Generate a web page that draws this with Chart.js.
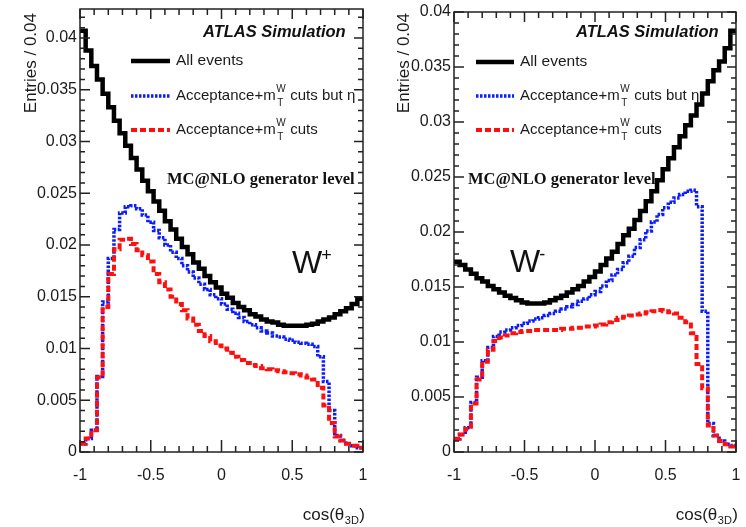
<!DOCTYPE html>
<html>
<head>
<meta charset="utf-8">
<script src="https://cdn.jsdelivr.net/npm/chart.js@4"></script>
<style>
    html, body { margin: 0; padding: 0; background: #fff; }
    #wrap { position: relative; width: 746px; height: 527px; }
    canvas { position: absolute; top: 0; }
    #plus-chart { left: 0; }
    #minus-chart { left: 373px; }
</style>
</head>
<body>
<div id="wrap">
    <canvas id="plus-chart" width="373" height="527"></canvas>
    <canvas id="minus-chart" width="373" height="527"></canvas>
</div>
<script>
// 50 bins of width 0.04 in cos(theta_3D)
const x_ticks = [-1, -0.5, 0, 0.5, 1];
const x_tick_labels = ['-1', '-0.5', '0', '0.5', '1'];
const y_ticks = [0, 0.005, 0.01, 0.015, 0.02, 0.025, 0.03, 0.035, 0.04];
const y_tick_labels = ['0', '0.005', '0.01', '0.015', '0.02', '0.025', '0.03', '0.035', '0.04'];
const legend_labels = ['All events', 'Acceptance+m', 'Acceptance+m'];

// W+
const wplus_all = [
    0.0407, 0.0388, 0.0373, 0.0360, 0.0346, 0.0333, 0.0320, 0.0308, 0.0296, 0.0284,
    0.0273, 0.0262, 0.0252, 0.0242, 0.0233, 0.0223, 0.0215, 0.0206, 0.0198, 0.0191,
    0.0183, 0.0177, 0.0170, 0.0164, 0.0159, 0.0153, 0.0149, 0.0144, 0.0140, 0.0137,
    0.0133, 0.0131, 0.0128, 0.0126, 0.0125, 0.0123, 0.0122, 0.0122, 0.0122, 0.0122,
    0.0123, 0.0124, 0.0126, 0.0128, 0.0130, 0.0133, 0.0136, 0.0139, 0.0143, 0.0148,
];
const wplus_no_eta = [
    0.0008, 0.0013, 0.0021, 0.0073, 0.0145, 0.0187, 0.0215, 0.0231, 0.0237, 0.0238,
    0.0235, 0.0229, 0.0222, 0.0214, 0.0207, 0.0200, 0.0193, 0.0187, 0.0180, 0.0174,
    0.0168, 0.0162, 0.0157, 0.0152, 0.0148, 0.0143, 0.0138, 0.0134, 0.0130, 0.0126,
    0.0123, 0.0120, 0.0117, 0.0115, 0.0112, 0.0111, 0.0109, 0.0108, 0.0106, 0.0105,
    0.0104, 0.0102, 0.0092, 0.0068, 0.0040, 0.0016, 0.0011, 0.0008, 0.0006, 0.0004,
];
const wplus_cuts = [
    0.0008, 0.0013, 0.0021, 0.0072, 0.0140, 0.0172, 0.0196, 0.0205, 0.0206, 0.0201,
    0.0195, 0.0190, 0.0184, 0.0172, 0.0164, 0.0157, 0.0150, 0.0143, 0.0137, 0.0129,
    0.0123, 0.0117, 0.0112, 0.0107, 0.0103, 0.0100, 0.0096, 0.0092, 0.0089, 0.0086,
    0.0084, 0.0083, 0.0081, 0.0080, 0.0079, 0.0078, 0.0077, 0.0076, 0.0075, 0.0074,
    0.0072, 0.0070, 0.0062, 0.0045, 0.0028, 0.0015, 0.0011, 0.0008, 0.0006, 0.0004,
];

// W-
const wminus_all = [
    0.0173, 0.0170, 0.0166, 0.0162, 0.0158, 0.0155, 0.0151, 0.0148, 0.0145, 0.0142,
    0.0140, 0.0138, 0.0136, 0.0135, 0.0135, 0.0135, 0.0136, 0.0138, 0.0140, 0.0142,
    0.0145, 0.0148, 0.0151, 0.0155, 0.0159, 0.0164, 0.0170, 0.0176, 0.0182, 0.0189,
    0.0197, 0.0203, 0.0211, 0.0219, 0.0228, 0.0237, 0.0247, 0.0257, 0.0267, 0.0277,
    0.0287, 0.0297, 0.0306, 0.0316, 0.0326, 0.0337, 0.0347, 0.0355, 0.0367, 0.0383,
];
const wminus_no_eta = [
    0.0012, 0.0016, 0.0022, 0.0045, 0.0068, 0.0083, 0.0095, 0.0105, 0.0109, 0.0111,
    0.0113, 0.0115, 0.0117, 0.0119, 0.0121, 0.0122, 0.0124, 0.0126, 0.0128, 0.0130,
    0.0132, 0.0134, 0.0137, 0.0139, 0.0143, 0.0146, 0.0151, 0.0156, 0.0161, 0.0166,
    0.0172, 0.0178, 0.0186, 0.0193, 0.0201, 0.0209, 0.0216, 0.0222, 0.0227, 0.0231,
    0.0234, 0.0237, 0.0238, 0.0223, 0.0128, 0.0026, 0.0015, 0.0010, 0.0007, 0.0006,
];
const wminus_cuts = [
    0.0012, 0.0016, 0.0021, 0.0044, 0.0066, 0.0082, 0.0093, 0.0101, 0.0104, 0.0106,
    0.0108, 0.0109, 0.0110, 0.0110, 0.0111, 0.0111, 0.0111, 0.0111, 0.0111, 0.0112,
    0.0112, 0.0113, 0.0113, 0.0114, 0.0114, 0.0115, 0.0116, 0.0118, 0.0120, 0.0122,
    0.0123, 0.0124, 0.0125, 0.0126, 0.0127, 0.0128, 0.0129, 0.0128, 0.0127, 0.0126,
    0.0122, 0.0118, 0.0108, 0.0080, 0.0058, 0.0024, 0.0015, 0.0010, 0.0007, 0.0005,
];

const SANS = '"Liberation Sans", Arial, sans-serif';
const SERIF = '"Liberation Serif", "Times New Roman", serif';
const INK = '#1a1a1a';

const styles = [
    { color: '#000000', width: 4.5, dash: [] },
    { color: '#0b1cff', width: 3.5, dash: [2.5, 1.5] },
    { color: '#ff1010', width: 4, dash: [6, 3] },
];

// histogram -> points at the bin edges, drawn as a stepped line
function to_steps(values) {
    const width = 2 / values.length;
    const pts = values.map((v, i) => ({ x: -1 + i * width, y: v }));
    pts.push({ x: 1, y: values[values.length - 1] });
    return pts;
}

function draw_mt(ctx, x, y, tail) {
    ctx.font = '15px ' + SANS;
    ctx.fillText(legend_labels[1], x, y);
    let w = ctx.measureText(legend_labels[1]).width;
    ctx.font = '10px ' + SANS;
    ctx.fillText('W', x + w + 0.5, y - 7);
    ctx.fillText('T', x + w + 1.5, y + 7);
    w += ctx.measureText('W').width + 1;
    ctx.font = '15px ' + SANS;
    ctx.fillText(tail, x + w, y);
}

const atlas_frame = {
    id: 'atlas_frame',
    afterDraw(chart, args, opts) {
        const ctx = chart.ctx;
        const { left, right, top, bottom } = chart.chartArea;
        const xs = chart.scales.x, ys = chart.scales.y;
        ctx.save();
        ctx.strokeStyle = '#222';
        ctx.lineWidth = 1.5;
        ctx.strokeRect(left, top, right - left, bottom - top);

        // x ticks, bottom and top
        ctx.beginPath();
        for (let i = 0; i <= 20; i++) {
            const v = -1 + i * 0.1;
            const px = xs.getPixelForValue(v);
            const major = i % 5 === 0;
            ctx.moveTo(px, bottom); ctx.lineTo(px, bottom - (major ? 12 : 6));
            ctx.moveTo(px, top); ctx.lineTo(px, top + (major ? 10 : 6));
        }
        // y ticks, left and right
        for (let i = 0; i * 0.001 <= opts.yMax + 1e-9; i++) {
            const py = ys.getPixelForValue(i * 0.001);
            const major = i % 5 === 0;
            ctx.moveTo(left, py); ctx.lineTo(left + (major ? 10 : 5), py);
            ctx.moveTo(right, py); ctx.lineTo(right - (major ? 9 : 5), py);
        }
        ctx.stroke();

        ctx.fillStyle = INK;
        ctx.font = '16px ' + SANS;
        ctx.textAlign = 'center';
        ctx.textBaseline = 'alphabetic';
        x_ticks.forEach((v, i) => ctx.fillText(x_tick_labels[i], xs.getPixelForValue(v), bottom + 28));
        ctx.textAlign = 'right';
        ctx.textBaseline = 'middle';
        y_ticks.forEach((v, i) => ctx.fillText(y_tick_labels[i], left - 3, ys.getPixelForValue(v)));

        // axis titles
        ctx.textBaseline = 'alphabetic';
        ctx.textAlign = 'left';
        ctx.font = '17px ' + SANS;
        const t1 = 'cos(\u03b8', t2 = '3D', t3 = ')';
        const w1 = ctx.measureText(t1).width, w3 = ctx.measureText(t3).width;
        ctx.font = '11px ' + SANS;
        const w2 = ctx.measureText(t2).width;
        let tx = right + 2 - (w1 + w2 + w3 + 1);
        ctx.font = '17px ' + SANS;
        ctx.fillText(t1, tx, bottom + 68);
        ctx.font = '11px ' + SANS;
        ctx.fillText(t2, tx + w1 + 0.5, bottom + 72);
        ctx.font = '17px ' + SANS;
        ctx.fillText(t3, tx + w1 + w2 + 1, bottom + 68);

        ctx.save();
        ctx.translate(opts.yTitleX, 13);
        ctx.rotate(-Math.PI / 2);
        ctx.textAlign = 'right';
        ctx.fillText('Entries / 0.04', 0, 0);
        ctx.restore();

        // legend
        const L = opts.legend;
        styles.forEach((s, i) => {
            const ly = L.y[i];
            ctx.beginPath();
            ctx.strokeStyle = s.color;
            ctx.lineWidth = s.width;
            ctx.setLineDash(s.dash);
            ctx.moveTo(L.x0, ly); ctx.lineTo(L.x1, ly);
            ctx.stroke();
        });
        ctx.setLineDash([]);
        ctx.fillStyle = INK;
        ctx.textBaseline = 'middle';
        ctx.font = '15.5px ' + SANS;
        ctx.fillText(legend_labels[0], L.tx, L.y[0]);
        draw_mt(ctx, L.tx, L.y[1], ' cuts but \u03b7');
        draw_mt(ctx, L.tx, L.y[2], ' cuts');

        ctx.textBaseline = 'alphabetic';
        ctx.fillStyle = '#111';
        ctx.font = 'italic bold 16.5px ' + SANS;
        ctx.fillText('ATLAS Simulation', opts.atlas.x, opts.atlas.y);
        ctx.font = 'bold 16.5px ' + SERIF;
        ctx.fillText('MC@NLO generator level', opts.mc.x, opts.mc.y);

        // boson label
        ctx.font = '32px ' + SANS;
        ctx.fillText('W', opts.boson.x, opts.boson.y);
        const bw = ctx.measureText('W').width;
        ctx.font = '18px ' + SANS;
        ctx.fillText(opts.boson.sign, opts.boson.x + bw - 1, opts.boson.y - 12);
        ctx.restore();
    }
};

function make_panel(canvas_id, series, panel) {
    const datasets = series.map((values, i) => ({
        data: to_steps(values),
        stepped: true,
        borderColor: styles[i].color,
        borderWidth: styles[i].width,
        borderDash: styles[i].dash,
        pointRadius: 0,
        fill: false,
        order: 2 - i,
    }));
    return new Chart(document.getElementById(canvas_id), {
        type: 'line',
        data: { datasets: datasets },
        options: {
            responsive: false,
            animation: false,
            layout: { padding: panel.padding },
            scales: {
                x: { type: 'linear', min: -1, max: 1, display: false },
                y: { type: 'linear', min: 0, max: panel.yMax, display: false },
            },
            plugins: {
                legend: { display: false },
                tooltip: { enabled: false },
                atlas_frame: panel,
            },
        },
        plugins: [atlas_frame],
    });
}

make_panel('plus-chart', [wplus_all, wplus_no_eta, wplus_cuts], {
    padding: { left: 80, right: 10, top: 9, bottom: 75 },
    yMax: 0.0428,
    yTitleX: 36,
    legend: { x0: 131, x1: 170, tx: 176, y: [61, 96, 130] },
    atlas: { x: 203, y: 37 },
    mc: { x: 167, y: 184 },
    boson: { x: 292, y: 273, sign: '+' },
});

make_panel('minus-chart', [wminus_all, wminus_no_eta, wminus_cuts], {
    padding: { left: 81, right: 10, top: 12, bottom: 75 },
    yMax: 0.04,
    yTitleX: 36,
    legend: { x0: 103, x1: 141, tx: 147, y: [62, 96, 130] },
    atlas: { x: 203, y: 37 },
    mc: { x: 95, y: 184 },
    boson: { x: 137, y: 272, sign: '-' },
});
</script>
</body>
</html>
